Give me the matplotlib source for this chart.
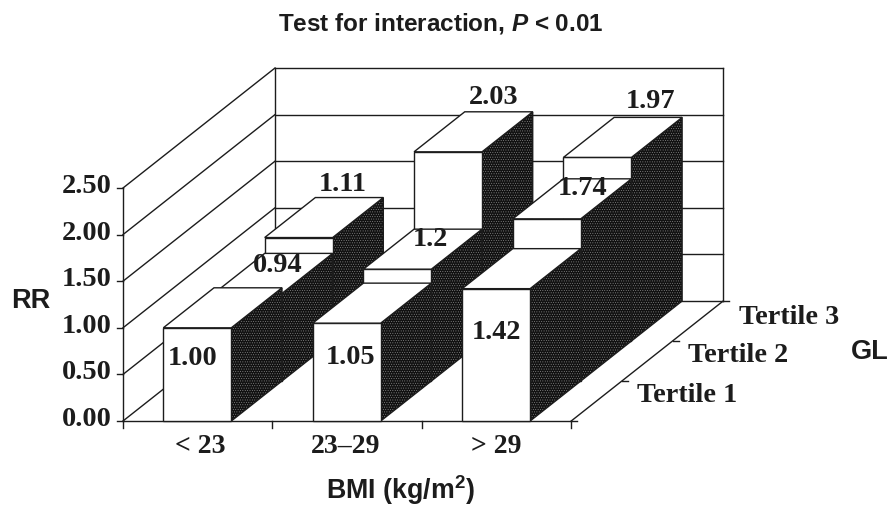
import matplotlib
matplotlib.use('Agg')
import matplotlib.pyplot as plt
from matplotlib.patches import Polygon

plt.rcParams['mathtext.fontset'] = 'custom'
plt.rcParams['mathtext.bf'] = 'Liberation Sans:bold'
plt.rcParams['mathtext.bfit'] = 'Liberation Sans:italic:bold'
plt.rcParams['mathtext.rm'] = 'Liberation Sans:bold'
plt.rcParams['hatch.linewidth'] = 0.35

bmi_groups = ['< 23', '23\u201329', '> 29']
gl_groups = ['Tertile 1', 'Tertile 2', 'Tertile 3']
rr_ticks = [0.0, 0.5, 1.0, 1.5, 2.0, 2.5]
rr_tertile1 = [1.00, 1.05, 1.42]
rr_tertile2 = [0.94, 1.2, 1.74]
rr_tertile3 = [1.11, 2.03, 1.97]
rr_text1 = ['1.00', '1.05', '1.42']
rr_text2 = ['0.94', '1.2', '1.74']
rr_text3 = ['1.11', '2.03', '1.97']

# where the oblique axes sit on the canvas, in pixels
X0, Y0 = 123, 422
CAT_W = 149.4
PX_PER_RR = 93.2
DEPTH_X, DEPTH_Y = 152, -120
BAR_OFF, BAR_W = 0.27, 0.455
INK = '#1c1c1c'
SERIF_DY = 2.5   # va='center' sits a bit high for digits

# label positions for each row, in pixels
label_xy = [[(193, 356), (351, 355), (497, 330)],
            [(278, 263), (430, 237), (583, 186)],
            [(343, 182), (494, 95), (651, 99)]]


def proj(cat, rr, depth):
    # cat in category units, rr in data units, depth 0-1 front to back
    return (X0 + cat * CAT_W + depth * DEPTH_X,
            Y0 - rr * PX_PER_RR + depth * DEPTH_Y)


fig = plt.figure(figsize=(8.89, 5.06), dpi=100)
ax = fig.add_axes([0, 0, 1, 1])
ax.set_xlim(0, 889)
ax.set_ylim(506, 0)
ax.axis('off')


def line(p, q, lw=1.0):
    ax.plot([p[0], q[0]], [p[1], q[1]], color=INK, lw=lw, solid_capstyle='projecting', zorder=1)


n = len(bmi_groups)
top = rr_ticks[-1]

# walls and floor
for t in rr_ticks:
    line(proj(0, t, 0), proj(0, t, 1))
    line(proj(0, t, 1), proj(n, t, 1))
line(proj(0, 0, 0), proj(0, top, 0))
line(proj(0, 0, 1), proj(0, top, 1))
line(proj(n, 0, 1), proj(n, top, 1))
line(proj(0, 0, 0), proj(n, 0, 0))
line(proj(n, 0, 0), proj(n, 0, 1))

# ticks
for t in rr_ticks:
    x, y = proj(0, t, 0)
    line((x - 6, y), (x, y))
    ax.text(x - 11, y - 5 + SERIF_DY, '%.2f' % t, ha='right', va='center', family='Liberation Serif',
            fontweight='bold', fontsize=20.4, color=INK)
for i in range(n + 1):
    x, y = proj(i, 0, 0)
    line((x, y), (x, y + 7))
for i in range(len(gl_groups) + 1):
    x, y = proj(n, 0, i / len(gl_groups))
    line((x, y), (x + 6, y))

# bars, back row first
rows = [rr_tertile1, rr_tertile2, rr_tertile3]
texts = [rr_text1, rr_text2, rr_text3]
nrows = len(rows)
z = 2
for r in range(nrows - 1, -1, -1):
    d0, d1 = r / nrows, (r + 1) / nrows
    for c, v in enumerate(rows[r]):
        c0, c1 = c + BAR_OFF, c + BAR_OFF + BAR_W
        side = [proj(c1, 0, d0), proj(c1, 0, d1), proj(c1, v, d1), proj(c1, v, d0)]
        ax.add_patch(Polygon(side, closed=True, facecolor='#111111', edgecolor='#8a8a8a',
                             hatch='.......', lw=0, zorder=z))
        ax.add_patch(Polygon(side, closed=True, fill=False, edgecolor=INK, lw=1.0, zorder=z))
        front = [proj(c0, 0, d0), proj(c1, 0, d0), proj(c1, v, d0), proj(c0, v, d0)]
        ax.add_patch(Polygon(front, closed=True, facecolor='white', edgecolor=INK, lw=1.0, zorder=z))
        roof = [proj(c0, v, d0), proj(c1, v, d0), proj(c1, v, d1), proj(c0, v, d1)]
        ax.add_patch(Polygon(roof, closed=True, facecolor='white', edgecolor=INK, lw=1.0, zorder=z))
    z += 1

# value labels go on top of everything
for r in range(nrows):
    for c in range(n):
        ax.text(label_xy[r][c][0], label_xy[r][c][1] + SERIF_DY, texts[r][c], ha='center', va='center',
                family='Liberation Serif', fontweight='bold', fontsize=20.3, color=INK, zorder=20)

# axis labels
for i, lab in enumerate(bmi_groups):
    ax.text([200, 346, 496][i], 444 + SERIF_DY, lab, ha='center', va='center', family='Liberation Serif',
            fontweight='bold', fontsize=20, color=INK)
for i, lab in enumerate(gl_groups):
    ax.text([687, 738, 789][i], [393, 353, 315][i] + SERIF_DY, lab, ha='center', va='center',
            family='Liberation Serif', fontweight='bold', fontsize=20.3, color=INK)

ax.text(441, 23, r'Test for interaction, $\mathbfit{P}$ < 0.01', ha='center', va='center',
        family='Liberation Sans', fontweight='bold', fontsize=17.5, color=INK)
ax.text(400, 490, r'BMI (kg/m$^{\mathbf{2}}$)', ha='center', va='center',
        family='Liberation Sans', fontweight='bold', fontsize=19.3, color=INK)
ax.text(31, 301, 'RR', ha='center', va='center', family='Liberation Sans',
        fontweight='bold', fontsize=19.5, color=INK)
ax.text(870, 352, 'GL', ha='center', va='center', family='Liberation Sans',
        fontweight='bold', fontsize=19.5, color=INK)

fig.savefig('out.png', dpi=100)
